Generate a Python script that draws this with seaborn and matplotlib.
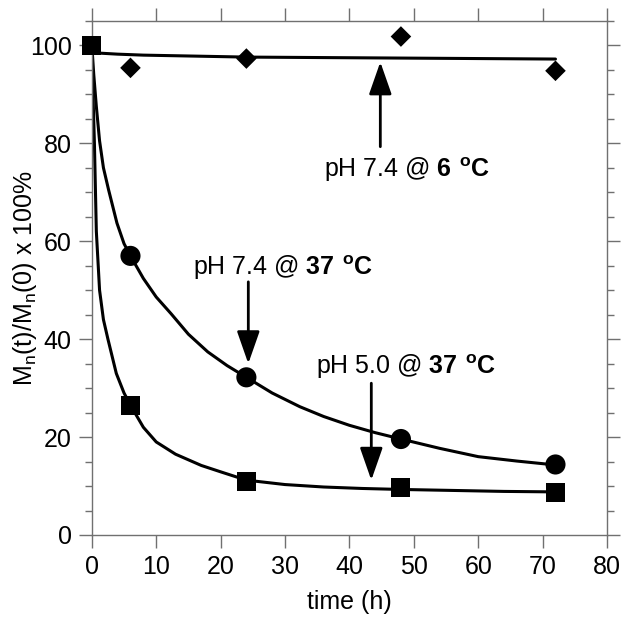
import numpy as np
import pandas as pd
import matplotlib
matplotlib.use('Agg')
import matplotlib.pyplot as plt
from matplotlib.ticker import MultipleLocator
import seaborn as sns

# measured points
time_pts = [0, 6, 24, 48, 72]
ph50_37 = [100, 26.5, 11.0, 9.7, 8.7]      # squares
ph74_37 = [100, 57.0, 32.2, 19.6, 14.4]    # circles
dia_t = [6, 24, 48, 72]
ph74_6 = [95.4, 97.3, 101.8, 94.8]          # diamonds

# fitted curves
sq_t = [0, 0.2, 0.4, 0.7, 1.2, 1.8, 2.5, 3.8, 5, 6, 8, 10, 13, 17, 20, 24, 30, 36, 42, 48, 56, 64, 72]
sq_y = [100, 89, 80, 62, 50, 44, 40, 33, 29, 26.5, 22, 19, 16.5, 14.2, 12.9, 11.2, 10.3, 9.8, 9.5, 9.3, 9.1, 8.9, 8.8]
ci_t = [0, 0.3, 0.7, 1.2, 1.8, 2.6, 3.9, 5, 6, 8, 10, 12.3, 15, 18, 21, 24, 28, 32.3, 36, 40, 44, 48, 54, 60, 66, 72]
ci_y = [100, 94, 87.5, 80.5, 75, 70.5, 63.7, 59.5, 57, 52.4, 48.6, 45.2, 41, 37.4, 34.6, 32.2, 29.0, 26.2, 24.2, 22.4, 20.9, 19.6, 17.7, 16.0, 15.1, 14.3]
dl_t = [0, 4, 8, 16, 24, 36, 48, 60, 72]
dl_y = [98.5, 98.2, 98.0, 97.8, 97.6, 97.5, 97.4, 97.3, 97.2]

sns.set_style('ticks')
plt.rcParams['font.family'] = ['Liberation Sans', 'DejaVu Sans']
plt.rcParams['mathtext.fontset'] = 'custom'
plt.rcParams['mathtext.rm'] = 'Liberation Sans'
plt.rcParams['mathtext.bf'] = 'Liberation Sans:bold'
plt.rcParams['text.color'] = 'black'
plt.rcParams['axes.labelcolor'] = 'black'

fig = plt.figure(figsize=(6.29, 6.32), dpi=100)
ax = fig.add_axes([0.146, 0.1535, 0.819, 0.8135])

for t, y in [(sq_t, sq_y), (ci_t, ci_y), (dl_t, dl_y)]:
    sns.lineplot(x=t, y=y, ax=ax, color='black', linewidth=2.2, sort=False, estimator=None)

sns.scatterplot(x=time_pts, y=ph50_37, ax=ax, marker='s', s=190, color='black', edgecolor='none',
                zorder=5, clip_on=False)
sns.scatterplot(x=time_pts[1:], y=ph74_37[1:], ax=ax, marker='o', s=210, color='black', edgecolor='none', zorder=5)
sns.scatterplot(x=dia_t, y=ph74_6, ax=ax, marker='D', s=110, color='black', edgecolor='none', zorder=5)

ax.set_xlim(0, 80)
ax.set_ylim(0, 105)
ax.xaxis.set_major_locator(MultipleLocator(10))
ax.yaxis.set_major_locator(MultipleLocator(20))
ax.yaxis.set_minor_locator(MultipleLocator(5))

gray = '#707070'
for sp in ax.spines.values():
    sp.set_color(gray)
    sp.set_linewidth(1.0)
ax.tick_params(which='both', direction='out', color=gray, width=1.0,
               top=True, right=True, labelsize=18, labelcolor='black')
ax.tick_params(which='major', length=9.5, pad=5)
ax.tick_params(which='minor', length=5)

ax.set_xlabel('time (h)', fontsize=18, labelpad=8)
ax.set_ylabel(r'M$_\mathregular{n}$(t)/M$_\mathregular{n}$(0) x 100%', fontsize=18)
ax.yaxis.set_label_coords(-0.102, 0.5)

arrow = dict(arrowstyle='-|>,head_length=1.0,head_width=0.35', color='black', lw=2.0,
             shrinkA=0, shrinkB=0, mutation_scale=20)
ax.annotate('', xy=(44.8, 96.6), xytext=(44.8, 79.3), arrowprops=arrow)
ax.annotate('', xy=(24.3, 35.0), xytext=(24.3, 51.7), arrowprops=arrow)
ax.annotate('', xy=(43.4, 11.2), xytext=(43.4, 31.0), arrowprops=arrow)

ax.text(49.0, 74.5, r'pH 7.4 @ $\mathbf{6\ ^{o}C}$', fontsize=18, ha='center', va='center')
ax.text(29.6, 54.5, r'pH 7.4 @ $\mathbf{37\ ^{o}C}$', fontsize=18, ha='center', va='center')
ax.text(48.7, 34.4, r'pH 5.0 @ $\mathbf{37\ ^{o}C}$', fontsize=18, ha='center', va='center')

fig.savefig('out.png', dpi=100, facecolor='white')
